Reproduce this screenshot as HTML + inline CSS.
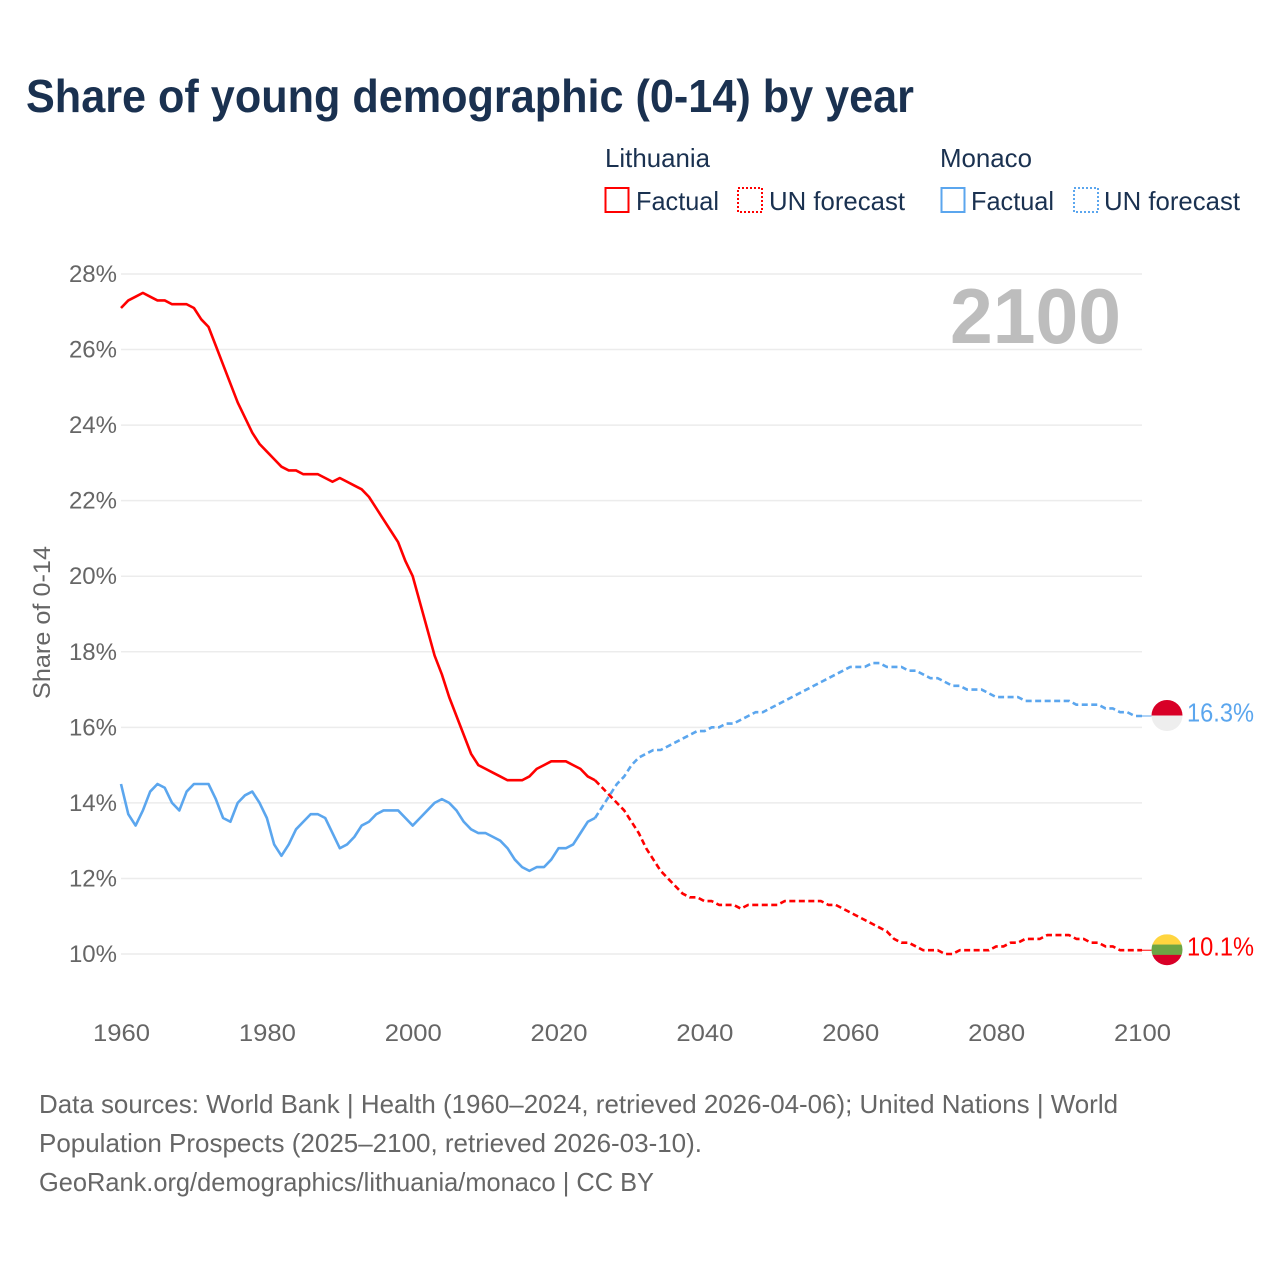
<!DOCTYPE html>
<html lang="en">
<head>
<meta charset="utf-8">
<title>Share of young demographic (0-14) by year</title>
<style>
html,body{margin:0;padding:0;background:#fff;width:1280px;height:1280px;overflow:hidden}
svg{display:block;font-family:"Liberation Sans",sans-serif}
</style>
</head>
<body>
<svg id="chart" xmlns="http://www.w3.org/2000/svg" width="1280" height="1280" viewBox="0 0 1280 1280">
<rect width="1280" height="1280" fill="#fff"/>
<text x="26" y="112" font-size="46" font-weight="700" fill="#1a3150" textLength="888" lengthAdjust="spacingAndGlyphs">Share of young demographic (0-14) by year</text>

<g font-size="26" fill="#1a3150">
<text x="605" y="167" textLength="105" lengthAdjust="spacingAndGlyphs">Lithuania</text>
<text x="940" y="167" textLength="92" lengthAdjust="spacingAndGlyphs">Monaco</text>
<rect x="605.5" y="188" width="23" height="24" fill="none" stroke="#ff0000" stroke-width="2"/>
<text x="636" y="210" textLength="83" lengthAdjust="spacingAndGlyphs">Factual</text>
<rect x="738" y="188" width="24" height="24" fill="none" stroke="#ff0000" stroke-width="2" stroke-dasharray="2 2"/>
<text x="769" y="210" textLength="136" lengthAdjust="spacingAndGlyphs">UN forecast</text>
<rect x="941.5" y="188" width="23" height="24" fill="none" stroke="#5ba6ee" stroke-width="2"/>
<text x="971" y="210" textLength="83" lengthAdjust="spacingAndGlyphs">Factual</text>
<rect x="1074" y="188" width="24" height="24" fill="none" stroke="#5ba6ee" stroke-width="2" stroke-dasharray="2 2"/>
<text x="1104" y="210" textLength="136" lengthAdjust="spacingAndGlyphs">UN forecast</text>
</g>

<g id="grid"></g>
<g id="yticks"></g>
<g id="xticks"></g>
<text transform="translate(50,699) rotate(-90)" font-size="24" fill="#666" textLength="153" lengthAdjust="spacingAndGlyphs">Share of 0-14</text>
<text x="950" y="343" font-size="78" font-weight="700" fill="#bdbdbd" textLength="171" lengthAdjust="spacingAndGlyphs">2100</text>
<g id="series"></g>
<g id="ends"></g>

<g font-size="26" fill="#666">
<text x="39" y="1113" textLength="1079" lengthAdjust="spacingAndGlyphs">Data sources: World Bank | Health (1960–2024, retrieved 2026-04-06); United Nations | World</text>
<text x="39" y="1152" textLength="663" lengthAdjust="spacingAndGlyphs">Population Prospects (2025–2100, retrieved 2026-03-10).</text>
<text x="39" y="1191" textLength="615" lengthAdjust="spacingAndGlyphs">GeoRank.org/demographics/lithuania/monaco | CC BY</text>
</g>
</svg>
<script>
const yTickValues = [10, 12, 14, 16, 18, 20, 22, 24, 26, 28];
const xTickYears = [1960, 1980, 2000, 2020, 2040, 2060, 2080, 2100];
const factualStartYear = 1960;
const forecastStartYear = 2025;
const lithuaniaFactual = [27.1,27.3,27.4,27.5,27.4,27.3,27.3,27.2,27.2,27.2,27.1,26.8,26.6,26.1,25.6,25.1,24.6,24.2,23.8,23.5,23.3,23.1,22.9,22.8,22.8,22.7,22.7,22.7,22.6,22.5,22.6,22.5,22.4,22.3,22.1,21.8,21.5,21.2,20.9,20.4,20.0,19.3,18.6,17.9,17.4,16.8,16.3,15.8,15.3,15.0,14.9,14.8,14.7,14.6,14.6,14.6,14.7,14.9,15.0,15.1,15.1,15.1,15.0,14.9,14.7,14.6];
const monacoFactual = [14.5,13.7,13.4,13.8,14.3,14.5,14.4,14.0,13.8,14.3,14.5,14.5,14.5,14.1,13.6,13.5,14.0,14.2,14.3,14.0,13.6,12.9,12.6,12.9,13.3,13.5,13.7,13.7,13.6,13.2,12.8,12.9,13.1,13.4,13.5,13.7,13.8,13.8,13.8,13.6,13.4,13.6,13.8,14.0,14.1,14.0,13.8,13.5,13.3,13.2,13.2,13.1,13.0,12.8,12.5,12.3,12.2,12.3,12.3,12.5,12.8,12.8,12.9,13.2,13.5,13.6];
const lithuaniaForecast = [14.6,14.4,14.2,14.0,13.8,13.5,13.2,12.8,12.5,12.2,12.0,11.8,11.6,11.5,11.5,11.4,11.4,11.3,11.3,11.3,11.2,11.3,11.3,11.3,11.3,11.3,11.4,11.4,11.4,11.4,11.4,11.4,11.3,11.3,11.2,11.1,11.0,10.9,10.8,10.7,10.6,10.4,10.3,10.3,10.2,10.1,10.1,10.1,10.0,10.0,10.1,10.1,10.1,10.1,10.1,10.2,10.2,10.3,10.3,10.4,10.4,10.4,10.5,10.5,10.5,10.5,10.4,10.4,10.3,10.3,10.2,10.2,10.1,10.1,10.1,10.1];
const monacoForecast = [13.6,13.9,14.2,14.5,14.7,15.0,15.2,15.3,15.4,15.4,15.5,15.6,15.7,15.8,15.9,15.9,16.0,16.0,16.1,16.1,16.2,16.3,16.4,16.4,16.5,16.6,16.7,16.8,16.9,17.0,17.1,17.2,17.3,17.4,17.5,17.6,17.6,17.6,17.7,17.7,17.6,17.6,17.6,17.5,17.5,17.4,17.3,17.3,17.2,17.1,17.1,17.0,17.0,17.0,16.9,16.8,16.8,16.8,16.8,16.7,16.7,16.7,16.7,16.7,16.7,16.7,16.6,16.6,16.6,16.6,16.5,16.5,16.4,16.4,16.3,16.3];

const NS = 'http://www.w3.org/2000/svg';
const xScale = year => 121 + (year - 1960) * (1142 - 121) / 140;
const yScale = value => 954 - (value - 10) * (954 - 274) / 18;

function make(tag, parent, attrs, text) {
  const el = document.createElementNS(NS, tag);
  for (const k in attrs) el.setAttribute(k, attrs[k]);
  if (text !== undefined) el.textContent = text;
  parent.appendChild(el);
  return el;
}
function pathFrom(values, startYear) {
  return values.map((v, i) => (i ? 'L' : 'M') + xScale(startYear + i).toFixed(2) + ' ' + yScale(v).toFixed(2)).join('');
}

const gridGroup = document.getElementById('grid');
const yGroup = document.getElementById('yticks');
yTickValues.forEach(v => {
  const line = make('line', gridGroup, {x1: xScale(1960), x2: xScale(2100), y1: yScale(v), y2: yScale(v), stroke: '#ececec', 'stroke-width': 1.5});
  
  
  const label = make('text', yGroup, {x: 117, y: yScale(v) + 8, 'text-anchor': 'end', 'font-size': 24, fill: '#666'}, v + '%');
  
  
});

const xGroup = document.getElementById('xticks');
xTickYears.forEach(y => {
  const label = make('text', xGroup, {x: xScale(y) - 28, y: 1041, 'font-size': 24, fill: '#666', textLength: 57, lengthAdjust: 'spacingAndGlyphs'}, String(y));
  
  
});

const seriesGroup = document.getElementById('series');
const RED = '#ff0000';
const BLUE = '#5ba6ee';
const lineBase = {fill: 'none', 'stroke-width': 2.6, 'stroke-linejoin': 'round'};

const lf = make('path', seriesGroup, Object.assign({d: pathFrom(lithuaniaFactual, factualStartYear), stroke: RED}, lineBase));


const mf = make('path', seriesGroup, Object.assign({d: pathFrom(monacoFactual, factualStartYear), stroke: BLUE}, lineBase));


const lp = make('path', seriesGroup, Object.assign({d: pathFrom(lithuaniaForecast, forecastStartYear), stroke: RED, 'stroke-dasharray': '6 3.5'}, lineBase));


const mp = make('path', seriesGroup, Object.assign({d: pathFrom(monacoForecast, forecastStartYear), stroke: BLUE, 'stroke-dasharray': '6 3.5'}, lineBase));



const endsGroup = document.getElementById('ends');
const defs = make('defs', endsGroup, {});
const flagX = 1167, flagR = 15.5;

function addFlag(id, value, color, bands, labelName, flagName, connectorName) {
  const cy = yScale(value);
  const clip = make('clipPath', defs, {id: id});
  make('circle', clip, {cx: flagX, cy: cy - 0.5, r: flagR});
  const conn = make('line', endsGroup, {x1: xScale(2100), x2: flagX - flagR, y1: cy, y2: cy, stroke: color, 'stroke-width': 1});
  
  
  const g = make('g', endsGroup, {'clip-path': 'url(#' + id + ')'});
  
  
  const h = 2 * flagR / bands.length;
  bands.forEach((c, i) => make('rect', g, {x: flagX - flagR, y: cy - 0.5 - flagR + i * h, width: 2 * flagR, height: h + 0.2, fill: c}));
  const label = make('text', endsGroup, {x: 1187, y: cy + 5.5, 'font-size': 26, fill: color, textLength: 67, lengthAdjust: 'spacingAndGlyphs'}, value.toFixed(1) + '%');
  
  
}
addFlag('clip-mc', monacoForecast[monacoForecast.length - 1], BLUE, ['#d80027', '#eeeeee'], 'end-label-monaco', 'flag-monaco', 'connector-monaco');
addFlag('clip-lt', lithuaniaForecast[lithuaniaForecast.length - 1], RED, ['#ffd53f', '#6da544', '#d80027'], 'end-label-lithuania', 'flag-lithuania', 'connector-lithuania');
</script>
</body>
</html>
